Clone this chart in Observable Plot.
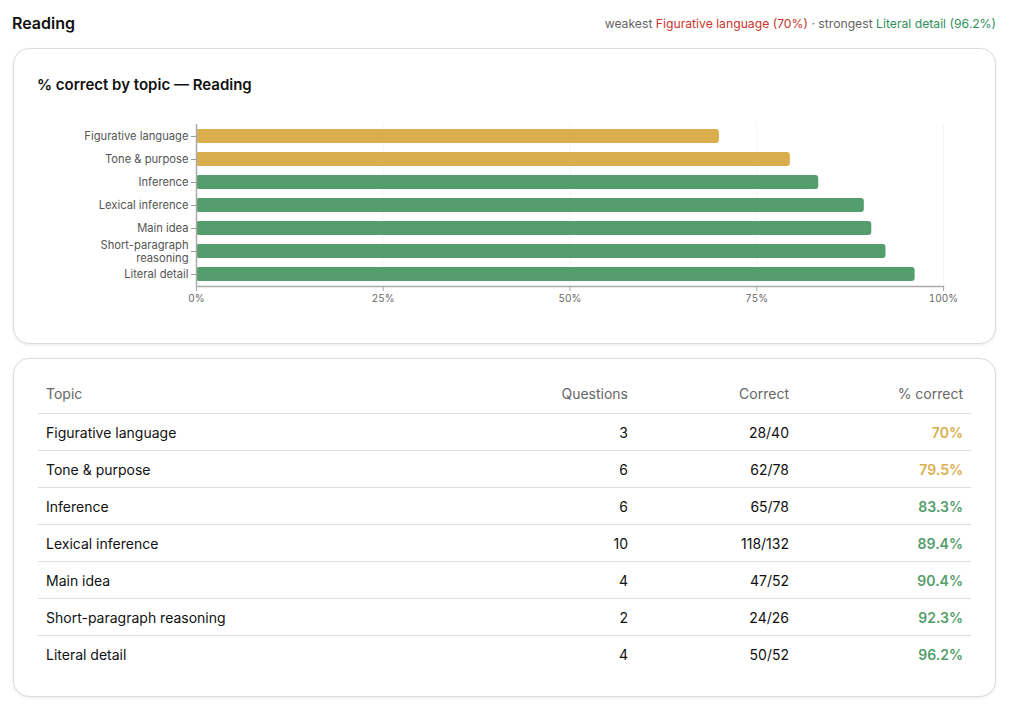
<!DOCTYPE html>
<html><head><meta charset="utf-8">
<script src="https://cdn.jsdelivr.net/npm/d3@7"></script>
<script src="https://cdn.jsdelivr.net/npm/@observablehq/plot@0.6"></script>
<style>
html,body{margin:0;padding:0;background:#fff;font-family:Inter,"Noto Sans",sans-serif;color:#111;}
#page{position:relative;width:1010px;height:713px;}
#hdr{position:absolute;left:12px;top:12px;width:984px;height:22px;display:flex;justify-content:space-between;align-items:center;}
#hdr .t{font-size:16px;font-weight:600;}
#hdr .s{font-size:12.2px;color:#666;}
.card{position:absolute;left:13px;width:981px;border:1px solid #dcdcdc;border-radius:16px;box-shadow:0 1px 3px rgba(0,0,0,0.08);background:#fff;}
#c1{top:48px;height:294px;}
#c2{top:358px;height:337px;}
#c1 .ct{position:absolute;left:23px;top:26px;font-size:15px;font-weight:600;}
#chart{position:absolute;left:24px;top:63px;}
table{position:absolute;left:24px;top:14px;width:933px;border-collapse:collapse;table-layout:fixed;font-size:14px;}
th{font-weight:400;color:#666;height:40px;padding:0 8px;border-bottom:1px solid #ddd;}
td{height:36px;padding:0 8px;border-bottom:1px solid #ddd;}
tr:last-child td{border-bottom:none;}
.r{text-align:right}.l{text-align:left}
td.p{font-weight:600;}
</style></head>
<body><div id="page">
<div id="hdr"><div class="t">Reading</div><div class="s" id="summary"></div></div>
<div class="card" id="c1"><div class="ct">% correct by topic — Reading</div><div id="chart"></div></div>
<div class="card" id="c2"><table id="tbl"></table></div>
</div>
<script>
const topics = ["Figurative language","Tone & purpose","Inference","Lexical inference","Main idea","Short-paragraph reasoning","Literal detail"];
const questions = [3,6,6,10,4,2,4];
const correct = [28,62,65,118,47,24,50];
const possible = [40,78,78,132,52,26,52];
const pct = [70,79.5,83.3,89.4,90.4,92.3,96.2];
const xTicks = [0,25,50,75,100];
const GOLD = "#dbae4d", GREEN = "#549d6c";
const colorOf = p => p < 80 ? GOLD : GREEN;

const data = topics.map((t,i)=>({topic:t, pct:pct[i], q:questions[i], c:correct[i], n:possible[i]}));

const chart = Plot.plot({
  width: 933, height: 200,
  marginLeft: 158, marginRight: 28, marginTop: 12, marginBottom: 26,
  style: {fontFamily: "Inter, sans-serif", fontSize: "10px", color: "#666", background: "transparent"},
  x: {domain: [0,100], label: null},
  y: {domain: topics, label: null, paddingInner: 0.4, paddingOuter: 0.2},
  marks: [
    Plot.gridX(xTicks, {stroke: "#000", strokeOpacity: 0.04}),
    Plot.barX(data, {x: "pct", y: "topic", fill: d => colorOf(d.pct), rx: 3}),
    Plot.axisX(xTicks, {tickFormat: d => d + "%", tickSize: 5, stroke: "#aaa", fill: "#666", fontSize: 10, tickPadding: 3}),
    Plot.axisY({tickSize: 5, stroke: "#999", fill: "#555", fontSize: 11.2, tickPadding: 3,
      tickFormat: d => d === "Short-paragraph reasoning" ? "Short-paragraph\nreasoning" : d, lineHeight: 1.1}),
    Plot.ruleX([0], {stroke: "#aaa", strokeWidth: 1.5}),
    Plot.frame({anchor: "bottom", stroke: "#aaa", strokeWidth: 1.5})
  ]
});
document.getElementById("chart").appendChild(chart);

// summary
const minI = pct.indexOf(d3.min(pct)), maxI = pct.indexOf(d3.max(pct));
document.getElementById("summary").innerHTML =
  `weakest <span style="color:#c8372d">${topics[minI]} (${pct[minI]}%)</span> · strongest <span style="color:#2f8f5b">${topics[maxI]} (${pct[maxI]}%)</span>`;

// table
const tbl = document.getElementById("tbl");
let html = `<colgroup><col style="width:442px"><col style="width:156px"><col style="width:161px"><col style="width:174px"></colgroup>`;
html += `<tr><th class="l">Topic</th><th class="r">Questions</th><th class="r">Correct</th><th class="r">% correct</th></tr>`;
data.forEach(d=>{
  html += `<tr><td class="l">${d.topic}</td><td class="r">${d.q}</td><td class="r">${d.c}/${d.n}</td><td class="r p" style="color:${colorOf(d.pct)}">${d.pct}%</td></tr>`;
});
tbl.innerHTML = html;
</script>
</body></html>
